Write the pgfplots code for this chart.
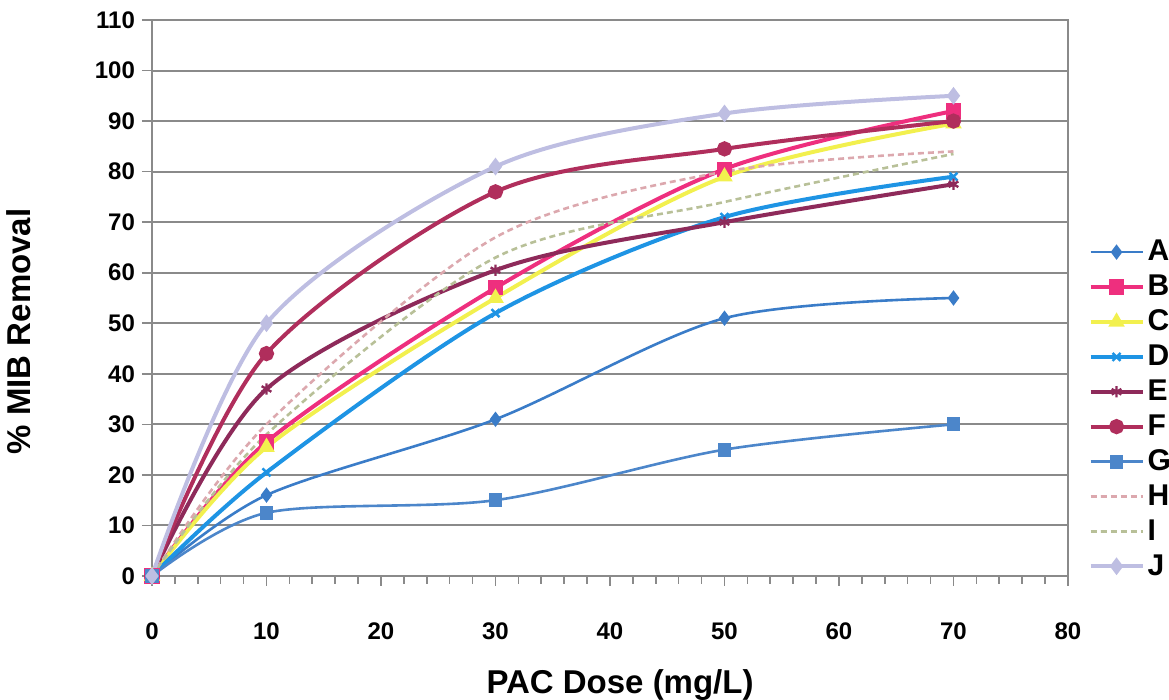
\documentclass[border=0pt]{standalone}
\usepackage{fontspec}
\setmainfont{Liberation Sans}
\usepackage{pgfplots}
\pgfplotsset{compat=1.18}
\definecolor{cA}{HTML}{3A7CC8}
\definecolor{cB}{HTML}{EE2F7E}
\definecolor{cC}{HTML}{F2F04E}
\definecolor{cD}{HTML}{1E94E4}
\definecolor{cE}{HTML}{8E2A5A}
\definecolor{cF}{HTML}{B02E5C}
\definecolor{cG}{HTML}{4C86CA}
\definecolor{cH}{HTML}{DCA8AE}
\definecolor{cI}{HTML}{B8C098}
\definecolor{cJ}{HTML}{BEBEE2}
\definecolor{gridgray}{HTML}{8A8A8A}
\begin{document}
\begin{tikzpicture}
\begin{axis}[
  scale only axis, width=458pt, height=278pt,
  xmin=0, xmax=80, ymin=0, ymax=110,
  xtick={0,10,...,80}, minor x tick num=4,
  ytick={0,10,...,110},
  axis lines=box,
  xtick pos=bottom, ytick pos=left,
  ymajorgrids, grid style={gridgray, line width=1pt},
  tick align=outside,
  major tick length=5pt, minor tick length=4pt,
  tick style={gridgray, line width=0.8pt},
  axis line style={gridgray, line width=1.4pt},
  /pgf/number format/assume math mode=true,
  ticklabel style={font=\bfseries\fontsize{12}{12}\selectfont},
  xticklabel style={yshift=-15pt},
  xlabel={PAC Dose (mg/L)},
  ylabel={\% MIB Removal},
  xlabel style={at={(axis description cs:0.511,-0.196)}, anchor=center, font=\bfseries\fontsize{16.5}{16.5}\selectfont},
  ylabel style={at={(axis description cs:-0.145,0.44)}, anchor=center, rotate=0, font=\bfseries\fontsize{16.5}{16.5}\selectfont},
  clip=false,
  legend style={draw=none, fill=none, at={(1.022,0.30)}, anchor=west,
    font=\bfseries\fontsize{15}{15}\selectfont, row sep=2.6pt, inner sep=0pt,
    nodes={inner sep=1.5pt}},
  legend cell align=left,
  legend image code/.code={\draw[mark repeat=2,mark phase=2] plot coordinates {(0pt,0pt) (13pt,0pt) (26pt,0pt)};},
  every axis plot/.append style={smooth, tension=0.5, mark size=2.8pt},
]
\addplot[cA, line width=1.3pt, mark=diamond*, mark options={fill=cA}] coordinates {(0,0) (10,16) (30,31) (50,51) (70,55)};
\addlegendentry{A}
\addplot[cB, line width=2pt, mark=square*, mark options={fill=cB}] coordinates {(0,0) (10,26.5) (30,57) (50,80.5) (70,92)};
\addlegendentry{B}
\addplot[cC, line width=2pt, mark=triangle*, mark options={fill=cC}] coordinates {(0,0) (10,25.5) (30,55) (50,79) (70,89.5)};
\addlegendentry{C}
\addplot[cD, line width=2pt, mark=x, mark options={line width=1.2pt}] coordinates {(0,0) (10,20.5) (30,52) (50,71) (70,79)};
\addlegendentry{D}
\addplot[cE, line width=2pt, mark=asterisk, mark options={line width=1.2pt}] coordinates {(0,0) (10,37) (30,60.5) (50,70) (70,77.5)};
\addlegendentry{E}
\addplot[cF, line width=2pt, mark=*, mark options={fill=cF}] coordinates {(0,0) (10,44) (30,76) (50,84.5) (70,90)};
\addlegendentry{F}
\addplot[cG, line width=1.3pt, mark=square*, mark options={fill=cG}] coordinates {(0,0) (10,12.5) (30,15) (50,25) (70,30)};
\addlegendentry{G}
\addplot[cH, line width=1.3pt, densely dashed, mark=none] coordinates {(0,0) (10,30) (30,67) (50,80) (70,84)};
\addlegendentry{H}
\addplot[cI, line width=1.3pt, densely dashed, mark=none] coordinates {(0,0) (10,28) (30,63) (50,74) (70,83.5)};
\addlegendentry{I}
\addplot[cJ, line width=2pt, mark=diamond*, mark options={fill=cJ}] coordinates {(0,0) (10,50) (30,81) (50,91.5) (70,95)};
\addlegendentry{J}
\draw[gridgray, line width=1.4pt] (axis description cs:1,0) -- (axis description cs:1,1);
\end{axis}
\pgfresetboundingbox
\path (-76pt,-62pt) rectangle (508.5pt,288pt);
\end{tikzpicture}
\end{document}
